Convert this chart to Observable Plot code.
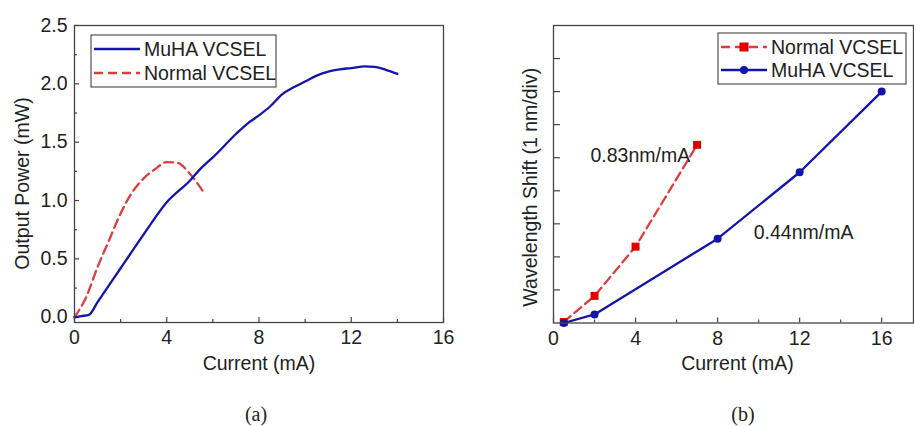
<!DOCTYPE html>
<html><head><meta charset="utf-8">
<script src="https://cdn.jsdelivr.net/npm/d3@7"></script>
<script src="https://cdn.jsdelivr.net/npm/@observablehq/plot@0.6"></script>
<style>
body{margin:0;background:#fff;}
#wrap{position:relative;width:914px;height:426px;overflow:hidden;font-family:"Liberation Sans",Arial,sans-serif;}
.panel{position:absolute;top:0;}
.cap{position:absolute;font-family:"Liberation Serif","Times New Roman",serif;font-size:20px;color:#222;transform:translate(-50%,-50%);white-space:nowrap;}
</style></head><body>
<div id="wrap">
 <div class="panel" id="pa" style="left:0"></div>
 <div class="panel" id="pb" style="left:457px"></div>
 <div class="cap" style="left:256px;top:414px">(a)</div>
 <div class="cap" style="left:743px;top:414px">(b)</div>
</div>
<script>
// ---------- Data: panel (a) L-I curves ----------
const muhaLICurrent = [0, 0.3, 0.62, 1, 2, 3, 4, 5, 5.5, 6, 7, 7.5, 8, 8.5, 9, 9.5, 10, 10.5, 11, 11.5, 12, 12.6, 13, 13.5, 14];
const muhaLIPower   = [0, 0.01, 0.02, 0.13, 0.42, 0.71, 0.985, 1.17, 1.28, 1.37, 1.57, 1.66, 1.73, 1.81, 1.91, 1.97, 2.02, 2.07, 2.105, 2.125, 2.135, 2.15, 2.145, 2.12, 2.085];
const normalLICurrent = [0, 0.5, 1, 1.5, 2, 2.5, 3, 3.5, 4, 4.5, 5, 5.6];
const normalLIPower   = [0, 0.17, 0.43, 0.66, 0.89, 1.07, 1.19, 1.27, 1.33, 1.32, 1.23, 1.07];

// ---------- Data: panel (b) wavelength shift ----------
const normalShiftCurrent = [0.5, 2, 4, 7];
const normalShift        = [0.03, 0.82, 2.31, 5.39];
const muhaShiftCurrent   = [0.5, 2, 8, 12, 16];
const muhaShift          = [0.0, 0.26, 2.55, 4.56, 7.0];

// ---------- Labels / ticks ----------
const seriesNames = ["MuHA VCSEL", "Normal VCSEL"];
const xMajorTicks = [0, 4, 8, 12, 16];
const xMinorTicks = [2, 6, 10, 14];
const yMajorTicksA = [0, 0.5, 1.0, 1.5, 2.0, 2.5];
const yMinorTicksA = [0.25, 0.75, 1.25, 1.75, 2.25];
const yTicksB = [1, 2, 3, 4, 5, 6, 7, 8];
const annotText = ["0.83nm/mA", "0.44nm/mA"];
const annotX = [1.8, 9.76];
const annotY = [5.06, 2.74];
const axisTitles = {xA: "Current (mA)", yA: "Output Power (mW)", xB: "Current (mA)", yB: "Wavelength Shift (1 nm/div)"};

const BLUE = "#1414aa", RED = "#dd3d3d", RED_MK = "#e00000", INK = "#222", FRAME = "#444";
const FS = 19.5;
const STYLE = {fontFamily: '"Liberation Sans", Arial, sans-serif', fontSize: FS + "px", color: INK, background: "transparent", overflow: "visible"};
const W = 457, H = 390;

const zipXY = (xs, ys) => xs.map((x, i) => ({x, y: ys[i]}));

function addLegend(svg, box, rows) {
  const g = d3.select(svg).append("g")
    .attr("font-family", STYLE.fontFamily).attr("font-size", FS).attr("fill", INK).attr("text-anchor", "start");
  g.append("rect").attr("x", box.x).attr("y", box.y).attr("width", box.w).attr("height", box.h)
    .attr("fill", "#fff").attr("stroke", FRAME).attr("stroke-width", 1.1);
  rows.forEach(r => {
    g.append("line").attr("x1", box.x + 3).attr("x2", box.x + 49).attr("y1", r.y).attr("y2", r.y)
      .attr("stroke", r.stroke).attr("stroke-width", 2.3).attr("stroke-dasharray", r.dash || null);
    const cx = box.x + 26;
    if (r.marker === "square") g.append("rect").attr("x", cx - 4.5).attr("y", r.y - 4.5).attr("width", 9).attr("height", 9).attr("fill", RED_MK);
    if (r.marker === "circle") g.append("circle").attr("cx", cx).attr("cy", r.y).attr("r", 4).attr("fill", BLUE);
    g.append("text").attr("x", box.x + 53).attr("y", r.y).attr("dy", "0.36em").attr("text-anchor", "start").text(r.label);
  });
}

// ---------- Panel (a) ----------
{
  const mT = 25, mB = 68, mL = 74, mR = 14;
  const fh = H - mT - mB, fw = W - mL - mR;
  const svg = Plot.plot({
    width: W, height: H, marginTop: mT, marginBottom: mB, marginLeft: mL, marginRight: mR,
    style: STYLE,
    x: {domain: [0, 16]},
    y: {domain: [-0.045, 2.5]},
    marks: [
      Plot.axisX(xMajorTicks, {tickSize: 0, tickPadding: 8, label: null, tickFormat: d3.format("d"), fontSize: FS}),
      Plot.axisY(yMajorTicksA, {tickSize: 0, tickPadding: 7, label: null, tickFormat: d3.format(".1f"), fontSize: FS}),
      Plot.ruleX(xMajorTicks, {x: d => d, insetTop: fh - 5, stroke: FRAME, strokeWidth: 1.2}),
      Plot.ruleX(xMinorTicks, {x: d => d, insetTop: fh - 3, stroke: FRAME, strokeWidth: 1.2}),
      Plot.ruleY(yMajorTicksA, {y: d => d, insetRight: fw - 5, stroke: FRAME, strokeWidth: 1.2}),
      Plot.ruleY(yMinorTicksA, {y: d => d, insetRight: fw - 3, stroke: FRAME, strokeWidth: 1.2}),
      Plot.line(zipXY(normalLICurrent, normalLIPower), {x: "x", y: "y", stroke: RED, strokeWidth: 2.3, strokeDasharray: "9,5", curve: "monotone-x"}),
      Plot.line(zipXY(muhaLICurrent, muhaLIPower), {x: "x", y: "y", stroke: BLUE, strokeWidth: 2.3, curve: "monotone-x"}),
      Plot.frame({stroke: FRAME, strokeWidth: 1.3}),
      Plot.text([axisTitles.xA], {frameAnchor: "bottom", dy: 47, fontSize: FS, fill: INK, textAnchor: "middle"}),
      Plot.text([axisTitles.yA], {frameAnchor: "left", dx: -52, dy: 9.5, rotate: -90, fontSize: FS, fill: INK, textAnchor: "middle"})
    ]
  });
  addLegend(svg, {x: 91, y: 35, w: 185, h: 52}, [
    {y: 49, label: seriesNames[0], stroke: BLUE},
    {y: 73, label: seriesNames[1], stroke: RED, dash: "9,5"}
  ]);
  document.getElementById("pa").appendChild(svg);
}

// ---------- Panel (b) ----------
{
  const mT = 25, mB = 67.5, mL = 96, mR = 1;
  const fh = H - mT - mB, fw = W - mL - mR;
  const svg = Plot.plot({
    width: W, height: H, marginTop: mT, marginBottom: mB, marginLeft: mL, marginRight: mR,
    style: STYLE,
    x: {domain: [0, 17.55]},
    y: {domain: [0, 9], axis: null},
    marks: [
      Plot.axisX(xMajorTicks, {tickSize: 0, tickPadding: 8, label: null, tickFormat: d3.format("d"), fontSize: FS}),
      Plot.ruleX(xMajorTicks, {x: d => d, insetTop: fh - 5, stroke: FRAME, strokeWidth: 1.2}),
      Plot.ruleX(xMinorTicks, {x: d => d, insetTop: fh - 3, stroke: FRAME, strokeWidth: 1.2}),
      Plot.ruleY(yTicksB, {y: d => d, insetRight: fw - 7, stroke: FRAME, strokeWidth: 1.2}),
      Plot.line(zipXY(normalShiftCurrent, normalShift), {x: "x", y: "y", stroke: RED, strokeWidth: 2.3, strokeDasharray: "9,5"}),
      Plot.dot(zipXY(normalShiftCurrent, normalShift), {x: "x", y: "y", symbol: "square", r: 4.5, fill: RED_MK, stroke: "none"}),
      Plot.line(zipXY(muhaShiftCurrent, muhaShift), {x: "x", y: "y", stroke: BLUE, strokeWidth: 2.3}),
      Plot.dot(zipXY(muhaShiftCurrent, muhaShift), {x: "x", y: "y", r: 4, fill: BLUE, stroke: "none"}),
      Plot.text(annotText, {x: (d, i) => annotX[i], y: (d, i) => annotY[i], textAnchor: "start", fontSize: FS, fill: INK}),
      Plot.frame({stroke: FRAME, strokeWidth: 1.3}),
      Plot.text([axisTitles.xB], {frameAnchor: "bottom", dy: 47, dx: 4, fontSize: FS, fill: INK, textAnchor: "middle"}),
      Plot.text([axisTitles.yB], {frameAnchor: "left", dx: -23, dy: 13, rotate: -90, fontSize: FS, fill: INK, textAnchor: "middle"})
    ]
  });
  addLegend(svg, {x: 261, y: 33, w: 188, h: 51}, [
    {y: 47, label: seriesNames[1], stroke: RED, dash: "9,5", marker: "square"},
    {y: 70, label: seriesNames[0], stroke: BLUE, marker: "circle"}
  ]);
  document.getElementById("pb").appendChild(svg);
}
</script>
</body></html>
